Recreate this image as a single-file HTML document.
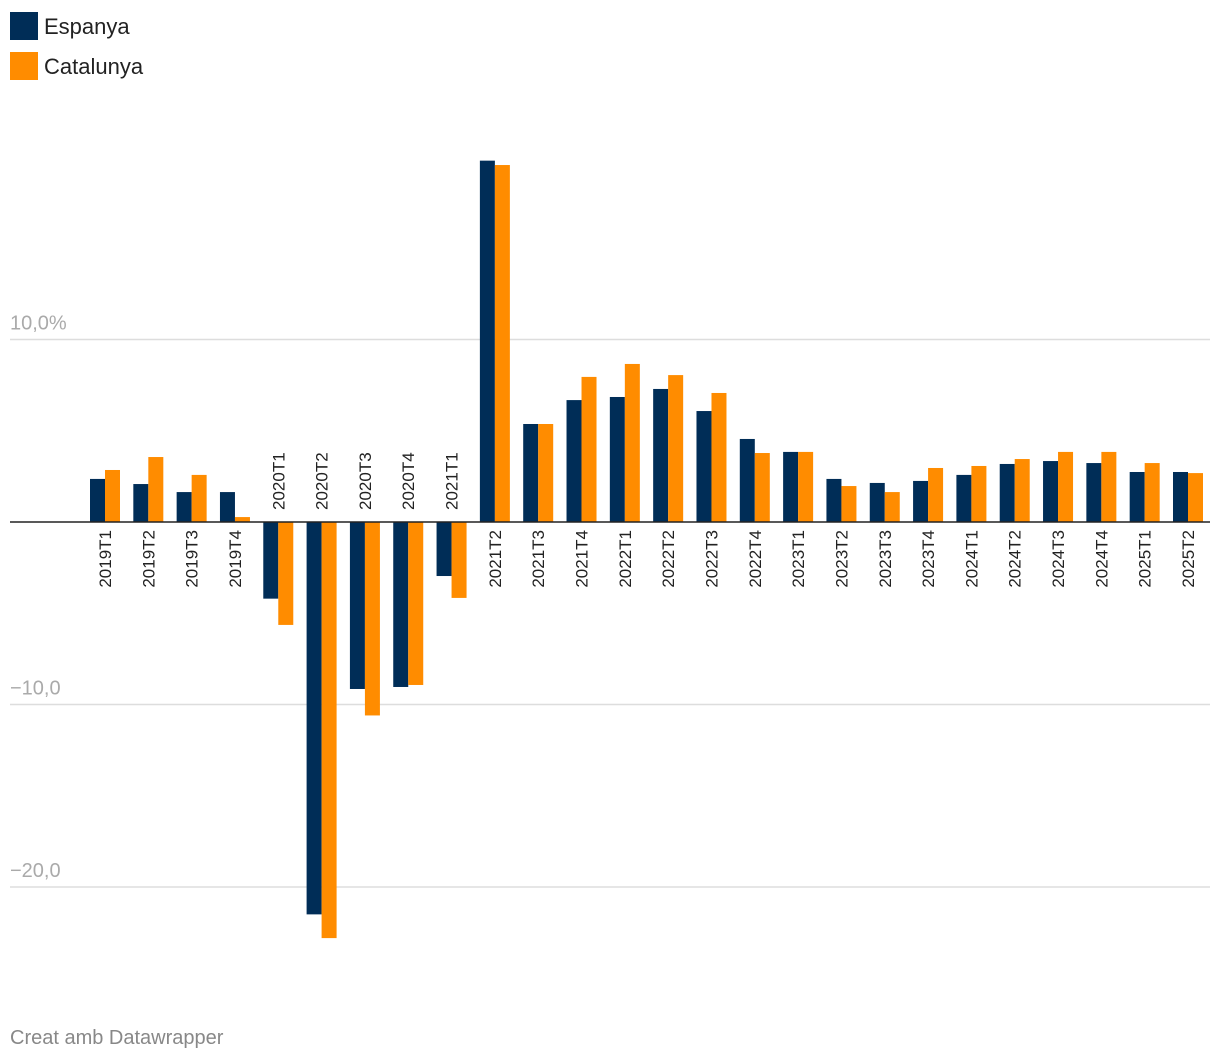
<!DOCTYPE html>
<html><head><meta charset="utf-8"><style>
body{margin:0;background:#fff;font-family:"Liberation Sans",sans-serif;}
svg{display:block}
</style></head><body>
<svg id="chart" width="1220" height="1060" xmlns="http://www.w3.org/2000/svg">
<g>
<rect x="10" y="12" width="28" height="28" fill="#002d57"/>
<text x="44" y="34" font-size="22" fill="#222">Espanya</text>
<rect x="10" y="52" width="28" height="28" fill="#ff8c00"/>
<text x="44" y="74" font-size="22" fill="#222">Catalunya</text>
</g>
<g id="grid"></g>
<g id="bars"></g>
<g id="labels"></g>
<text x="10" y="1044" font-size="20" fill="#888">Creat amb Datawrapper</text>
</svg>
<script>
const categories=["2019T1","2019T2","2019T3","2019T4","2020T1","2020T2","2020T3","2020T4","2021T1","2021T2","2021T3","2021T4","2022T1","2022T2","2022T3","2022T4","2023T1","2023T2","2023T3","2023T4","2024T1","2024T2","2024T3","2024T4","2025T1","2025T2"];
const espanya=[2.36,2.08,1.64,1.64,-4.2,-21.5,-9.15,-9.04,-2.96,19.8,5.37,6.68,6.85,7.29,6.08,4.55,3.84,2.36,2.14,2.25,2.58,3.18,3.34,3.23,2.74,2.74];
const catalunya=[2.85,3.56,2.58,0.27,-5.64,-22.8,-10.6,-8.93,-4.16,19.56,5.37,7.95,8.66,8.05,7.07,3.78,3.84,1.97,1.64,2.96,3.07,3.45,3.84,3.84,3.23,2.68];
const ticks=[10,-10,-20];
const tickLabels=["10,0%","−10,0","−20,0"];
const NS="http://www.w3.org/2000/svg";
const y0=522, pxPer=18.25;
function y(v){return y0-v*pxPer;}
const firstC=105, lastC=1188;
function xc(i){return firstC+i*(lastC-firstC)/(categories.length-1);}
const bw=15;
function mk(t,a,parent){const e=document.createElementNS(NS,t);for(const k in a)e.setAttribute(k,a[k]);document.getElementById(parent).appendChild(e);return e;}
ticks.forEach((t,i)=>{
 const l=mk('line',{x1:10,x2:1210,y1:y(t),y2:y(t),stroke:'#ddd','stroke-width':1.5},'grid');
 
 
 const tx=mk('text',{x:10,y:y(t)-10,'font-size':20,fill:'#aaa'},'grid');
 tx.textContent=tickLabels[i];
 
 
});
categories.forEach((c,i)=>{
 const cx=xc(i);
 [[espanya[i],'#002d57',cx-bw,'espanya'],[catalunya[i],'#ff8c00',cx,'catalunya']].forEach(([v,col,x,n])=>{
  const r=mk('rect',{x:x,y:Math.min(y(v),y0),width:bw,height:Math.abs(y(v)-y0),fill:col},'bars');
  
  
 });
 const neg=espanya[i]<0;
 const ly=neg?y0-12:y0+8;
 const t=mk('text',{x:0,y:0,'font-size':17,fill:'#222','text-anchor':neg?'start':'end',transform:`translate(${cx+6},${ly}) rotate(-90)`},'labels');
 t.textContent=c;
 
 
});
const ax=mk('line',{x1:10,x2:1210,y1:y0,y2:y0,stroke:'#222','stroke-width':1.5},'grid');


document.getElementById('grid').parentNode.appendChild(ax);
</script>
</body></html>
